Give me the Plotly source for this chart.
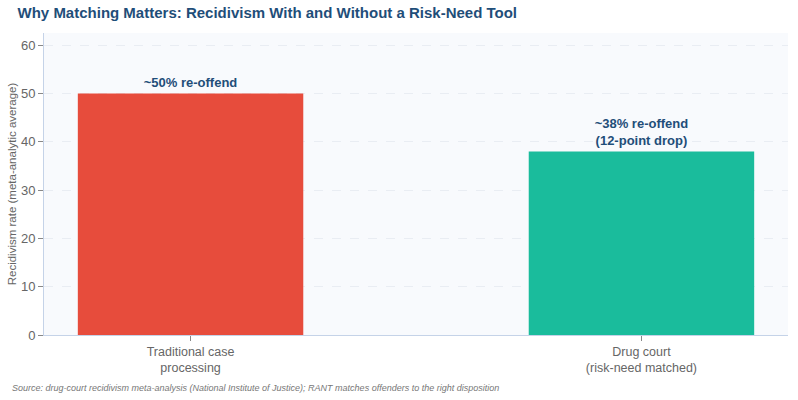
import plotly.graph_objects as go

categories = ["Traditional case<br>processing", "Drug court<br>(risk-need matched)"]
rates = [50, 38]
labels = ["~50% re-offend", "~38% re-offend<br>(12-point drop)"]
colors = ["#e74c3c", "#1abc9c"]
tick_vals = [0, 10, 20, 30, 40, 50, 60]

fig = go.Figure()
fig.add_trace(go.Bar(
    x=categories, y=rates, marker=dict(color=colors, line=dict(width=0)),
    text=labels, textposition="outside", cliponaxis=False,
    textfont=dict(family="Liberation Sans, Arial, sans-serif", size=13, color="#1f4e79"),
    texttemplate="<b>%{text}</b>", width=0.5, hoverinfo="skip",
))
fig.update_layout(
    width=798, height=400,
    margin=dict(l=44, r=10, t=33, b=65),
    paper_bgcolor="white", plot_bgcolor="#f8fafd",
    font=dict(family="Liberation Sans, Arial, sans-serif", color="#555555"),
    title=dict(text="<b>Why Matching Matters: Recidivism With and Without a Risk-Need Tool</b>",
               x=0.022, xanchor="left", y=0.967, yanchor="middle",
               font=dict(size=15, color="#1f4e79")),
    showlegend=False,
)
fig.update_xaxes(range=[-0.325, 1.325], showline=True, linecolor="#c5d3e8", linewidth=1, ticks="outside",
                 tickcolor="#888888", ticklen=5, tickfont=dict(size=12.5, color="#666666"),
                 automargin=False)
fig.update_yaxes(range=[0, 62.5], tickvals=tick_vals, showline=True, linecolor="#c5d3e8",
                 linewidth=1, ticks="outside", tickcolor="#888888", ticklen=5,
                 gridcolor="#e9edf3", griddash="dash", zeroline=False, automargin=False,
                 tickfont=dict(size=13, color="#666666"),
                 title=dict(text="Recidivism rate (meta-analytic average)", font=dict(size=11.5, color="#666666"), standoff=1))
fig.add_annotation(
    text="<i>Source: drug-court recidivism meta-analysis (National Institute of Justice); RANT matches offenders to the right disposition</i>",
    xref="paper", yref="paper", x=-0.046, y=-0.175, xanchor="left", yanchor="middle",
    showarrow=False, font=dict(size=9, color="#777777"),
)
fig.write_html("out.html")
